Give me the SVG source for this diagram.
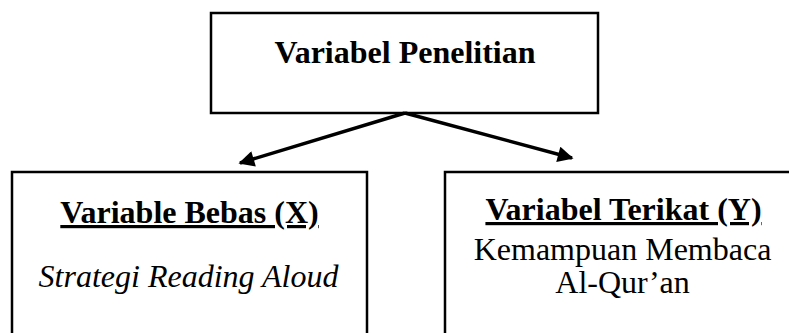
<svg xmlns="http://www.w3.org/2000/svg" width="789" height="333" viewBox="0 0 789 333">
  <style>
    .box { fill: #ffffff; stroke: #000000; stroke-width: 2.5; }
    .title { font-family: "Liberation Serif", "Times New Roman", serif; font-weight: bold; font-size: 32px; fill: #000000; text-anchor: middle; }
    .head { font-family: "Liberation Serif", "Times New Roman", serif; font-weight: bold; font-size: 32px; fill: #000000; text-anchor: middle; text-decoration: underline; }
    .body { font-family: "Liberation Serif", "Times New Roman", serif; font-size: 32px; fill: #000000; text-anchor: middle; }
    .conn { stroke: #000000; stroke-width: 3.5; fill: none; marker-end: url(#arrow); }
  </style>
  <defs>
    <marker id="arrow" viewBox="0 0 10 10" refX="9" refY="5" markerWidth="5" markerHeight="4.5" orient="auto" markerUnits="strokeWidth">
      <path d="M0,0 L10,5 L0,10 z" fill="#000000"/>
    </marker>
  </defs>
  <rect width="789" height="333" fill="#ffffff"/>

  <g id="variabel-penelitian">
    <rect class="box" x="211" y="13" width="387" height="100"/>
    <text class="title" x="405" y="63">Variabel Penelitian</text>
  </g>

  <g id="variabel-bebas">
    <rect class="box" x="12" y="172" width="355" height="180"/>
    <text class="head" x="189.5" y="223">Variable Bebas (X)</text>
    <text class="body" x="188.5" y="287" font-style="italic">Strategi Reading Aloud</text>
  </g>

  <g id="variabel-terikat">
    <rect class="box" x="445" y="172" width="360" height="180"/>
    <text class="head" x="623.5" y="220">Variabel Terikat (Y)</text>
    <text class="body" x="622.5" y="260">Kemampuan Membaca</text>
    <text class="body" x="622.5" y="293">Al-Qur’an</text>
  </g>

  <g id="connectors">
    <line class="conn" x1="405" y1="113" x2="240" y2="163"/>
    <line class="conn" x1="405" y1="113" x2="572" y2="158"/>
  </g>
</svg>
